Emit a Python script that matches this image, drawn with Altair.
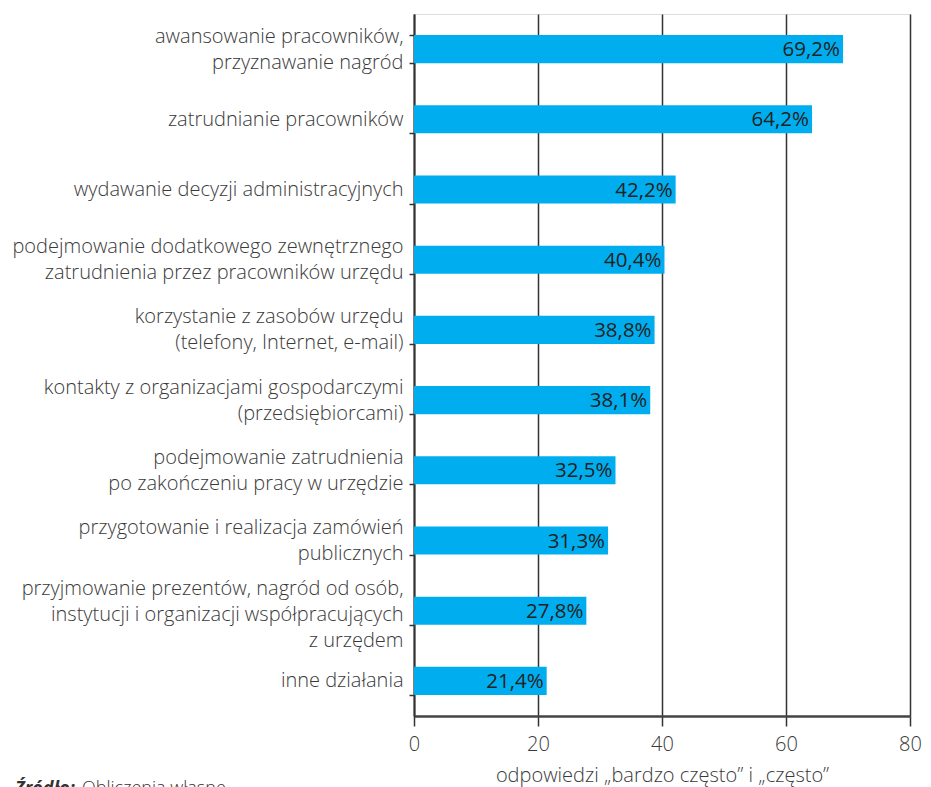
import altair as alt
import pandas as pd

categories = [
    "awansowanie pracowników,|przyznawanie nagród",
    "zatrudnianie pracowników",
    "wydawanie decyzji administracyjnych",
    "podejmowanie dodatkowego zewnętrznego|zatrudnienia przez pracowników urzędu",
    "korzystanie z zasobów urzędu|(telefony, Internet, e-mail)",
    "kontakty z organizacjami gospodarczymi|(przedsiębiorcami)",
    "podejmowanie zatrudnienia|po zakończeniu pracy w urzędzie",
    "przygotowanie i realizacja zamówień|publicznych",
    "przyjmowanie prezentów, nagród od osób,|instytucji i organizacji współpracujących|z urzędem",
    "inne działania",
]
values = [69.2, 64.2, 42.2, 40.4, 38.8, 38.1, 32.5, 31.3, 27.8, 21.4]
x_ticks = [0, 20, 40, 60, 80]
x_title = "odpowiedzi „bardzo często” i „często”"
source_bold = "Źródło:"
source_text = "Obliczenia własne"

df = pd.DataFrame({
    "cat": categories,
    "val": values,
    "lbl": [f"{v:.1f}".replace(".", ",") + "%" for v in values],
})

FONT = "Open Sans"
PAD_L, PAD_T = 406, 6
W, H = 496, 702
PAD_R = 915 - PAD_L - W
PAD_B = 779 - PAD_T - H
LH = 26

label_offset = {
    "condition": [
        {"test": "length(split(datum.label, '|')) == 3", "value": -LH + 4},
        {"test": "length(split(datum.label, '|')) == 2", "value": -LH / 2},
    ],
    "value": 0,
}

y_enc = alt.Y(
    "cat:N", sort=None, title=None,
    scale=alt.Scale(paddingInner=0.6, paddingOuter=0.3),
    axis=alt.Axis(
        labelExpr="split(datum.label, '|')",
        labelFont=FONT, labelFontSize=20, labelFontWeight=300, labelColor="#3a3a3a",
        labelLineHeight=LH, labelPadding=6, labelLimit=420,
        labelOffset=label_offset,
        tickBand="extent", tickSize=5, tickColor="#333333", tickWidth=1.5,
        domainColor="#333333", domainWidth=2, grid=False,
    ),
)
x_enc = alt.X(
    "val:Q", title=x_title,
    scale=alt.Scale(domain=[0, 80], nice=False),
    axis=alt.Axis(
        values=x_ticks, format="d", labelFlush=False,
        labelFont=FONT, labelFontSize=20, labelFontWeight=300, labelColor="#3a3a3a",
        labelPadding=8, tickSize=10, tickColor="#333333", tickWidth=1.5,
        domainColor="#444444", domainWidth=2.5,
        grid=True, gridColor="#333333", gridWidth=1.5, gridOpacity=1,
        titleFont=FONT, titleFontSize=20, titleFontWeight=300, titleColor="#3a3a3a",
        titlePadding=11,
    ),
)

base = alt.Chart(df)
bars = base.mark_bar(color="#00AEEF").encode(x=x_enc, y=y_enc)
labels = base.mark_text(
    align="right", baseline="middle", dx=-3, dy=1,
    font=FONT, fontSize=20.5, color="#222222",
).encode(x="val:Q", y=alt.Y("cat:N", sort=None), text="lbl:N")

src_df = pd.DataFrame({"a": [source_bold], "b": [source_text]})
src1 = alt.Chart(src_df).mark_text(
    align="left", baseline="top", font=FONT, fontSize=18,
    fontStyle="italic", fontWeight="bold", color="#333333",
).encode(x=alt.value(-399), y=alt.value(H + 64), text="a:N")
src2 = alt.Chart(src_df).mark_text(
    align="left", baseline="top", font=FONT, fontSize=18,
    fontWeight=300, color="#333333",
).encode(x=alt.value(-332), y=alt.value(H + 64), text="b:N")

chart = alt.layer(bars, labels, src1, src2).properties(
    width=W, height=H,
    autosize=alt.AutoSizeParams(type="none"),
    padding={"left": PAD_L, "top": PAD_T, "right": PAD_R, "bottom": PAD_B},
).configure_view(stroke=None).configure(background="white")

chart.save("out.html", embed_options={"renderer": "svg", "actions": False})
